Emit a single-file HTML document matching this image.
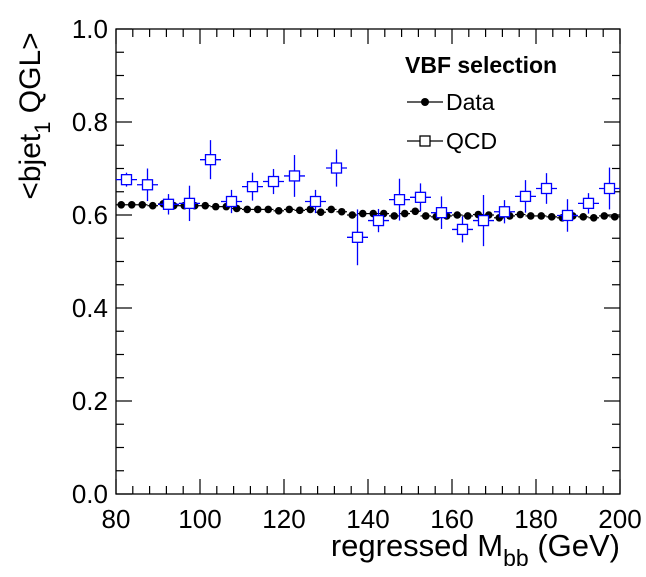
<!DOCTYPE html>
<html><head><meta charset="utf-8"><style>
body{margin:0;background:#fff}
svg{font-family:"Liberation Sans",Arial,sans-serif}
</style></head><body>
<svg id="chart" width="646" height="572" viewBox="0 0 646 572" xmlns="http://www.w3.org/2000/svg">
<rect width="646" height="572" fill="#fff"/>
<g id="axes"></g>
<g id="data-series"></g>
<g id="qcd-series"></g>
<text transform="translate(40,116) rotate(-90)" text-anchor="middle" font-size="30">&lt;bjet<tspan font-size="22" dy="10">1</tspan><tspan dy="-10"> QGL&gt;</tspan></text>
<text x="620" y="556" text-anchor="end" font-size="31">regressed M<tspan font-size="23" dy="10">bb</tspan><tspan dy="-10"> (GeV)</tspan></text>
<g>
<text x="405" y="73" font-size="23" font-weight="bold">VBF selection</text>
<g>
<line x1="407" y1="102" x2="443" y2="102" stroke="#000" stroke-width="1.3"/>
<circle cx="425" cy="102" r="4" fill="#000"/>
<text x="446" y="110" font-size="23">Data</text></g>
<g>
<line x1="407" y1="141" x2="443" y2="141" stroke="#000" stroke-width="1.3"/>
<rect x="420" y="136" width="10" height="10" fill="#fff" stroke="#000" stroke-width="1.3"/>
<text x="446" y="149" font-size="23">QCD</text></g>
</g>
</svg>
<script>
const dataX0 = 81.25, dataStep = 2.5;
const dataValues = [0.622,0.622,0.622,0.620,0.624,0.620,0.620,0.620,0.620,0.618,0.618,0.614,0.612,0.612,0.612,0.609,0.612,0.610,0.612,0.606,0.612,0.607,0.600,0.603,
0.603,0.603,0.598,0.603,0.608,0.598,0.596,0.598,0.600,0.598,0.601,0.600,0.594,0.598,0.601,0.598,0.598,0.596,0.594,0.598,0.596,0.594,0.598,0.596];
const qcdX = [82.5,87.5,92.5,97.5,102.5,107.5,112.5,117.5,122.5,127.5,132.5,137.5,142.5,147.5,152.5,157.5,162.5,167.5,172.5,177.5,182.5,187.5,192.5,197.5];
const qcdValues = [0.676,0.665,0.623,0.625,0.719,0.629,0.661,0.672,0.684,0.629,0.701,0.552,0.588,0.633,0.638,0.605,0.569,0.588,0.607,0.640,0.657,0.599,0.625,0.657];
const qcdErrors = [0.015,0.035,0.022,0.038,0.042,0.025,0.03,0.027,0.045,0.025,0.04,0.06,0.025,0.045,0.03,0.035,0.028,0.055,0.025,0.035,0.033,0.035,0.022,0.045];
const xTicks = [80,100,120,140,160,180,200];
const yTicks = [0,0.2,0.4,0.6,0.8,1.0];
const yTickLabels = ["0.0","0.2","0.4","0.6","0.8","1.0"];

const L=116,R=620,T=29,B=494;
const xs=v=>L+(v-80)/120*(R-L);
const ys=v=>B-v*(B-T);
const NS="http://www.w3.org/2000/svg";
function mk(tag,attrs,parent){const e=document.createElementNS(NS,tag);for(const k in attrs)e.setAttribute(k,attrs[k]);parent.appendChild(e);return e;}
const ax=document.getElementById('axes');
const frame=mk('rect',{x:L,y:T,width:R-L,height:B-T,fill:'none',stroke:'#000','stroke-width':1.3},ax);


for(let v=80;v<=200.01;v+=4){const major=(Math.round(v)%20===0);const len=major?15:8;const x=xs(v);
 mk('line',{x1:x,y1:B,x2:x,y2:B-len,stroke:'#000','stroke-width':1.2},ax);
 mk('line',{x1:x,y1:T,x2:x,y2:T+len,stroke:'#000','stroke-width':1.2},ax);}
for(let i=0;i<=20;i++){const v=i*0.05;const major=(i%4===0);const len=major?16:8;const y=ys(v);
 mk('line',{x1:L,y1:y,x2:L+len,y2:y,stroke:'#000','stroke-width':1.2},ax);
 mk('line',{x1:R,y1:y,x2:R-len,y2:y,stroke:'#000','stroke-width':1.2},ax);}
xTicks.forEach(v=>{const t=mk('text',{x:xs(v),y:B+34,'text-anchor':'middle','font-size':26},ax);t.textContent=v;
 
 });
yTicks.forEach((v,i)=>{const t=mk('text',{x:L-8,y:ys(v)+9,'text-anchor':'end','font-size':26},ax);t.textContent=yTickLabels[i];
 
 });
const qg=document.getElementById('qcd-series');
qcdX.forEach((xv,i)=>{const g=mk('g',{},qg);
 
 
 const x=xs(xv),y=ys(qcdValues[i]),e=qcdErrors[i]*(B-T);
 mk('line',{x1:xs(xv-2.5),y1:y,x2:xs(xv+2.5),y2:y,stroke:'#00f','stroke-width':1.3},g);
 mk('line',{x1:x,y1:y-e,x2:x,y2:y+e,stroke:'#00f','stroke-width':1.3},g);
 mk('rect',{x:x-5,y:y-5,width:10,height:10,fill:'#fff',stroke:'#00f','stroke-width':1.3},g);});
const dg=document.getElementById('data-series');
dataValues.forEach((v,i)=>{const xv=dataX0+i*dataStep;const x=xs(xv),y=ys(v);const g=mk('g',{},dg);
 
 
 mk('line',{x1:xs(xv-1.25),y1:y,x2:xs(xv+1.25),y2:y,stroke:'#000','stroke-width':1.2},g);
 mk('circle',{cx:x,cy:y,r:3.8,fill:'#000'},g);});
</script>
</body></html>
